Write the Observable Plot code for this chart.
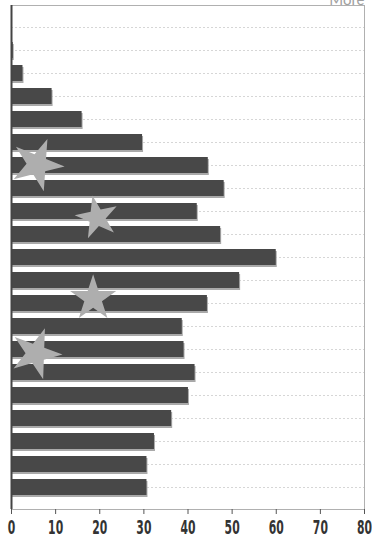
<!DOCTYPE html>
<html>
<head>
<meta charset="utf-8">
<script src="https://cdn.jsdelivr.net/npm/d3@7"></script>
<script src="https://cdn.jsdelivr.net/npm/@observablehq/plot@0.6"></script>
<style>
  html, body { margin: 0; padding: 0; background: #fff; }
  #chart { width: 372px; height: 537px; overflow: hidden; }
</style>
</head>
<body>
<div id="chart"></div>
<script>
// ---- data ----
const categories = ["1","2","3","4","5","6","7","8","9","10","11","12","13","14","15","16","17","18","19","20","21"];
const values = [0, 0.4, 2.6, 9.2, 16.0, 29.7, 44.6, 48.2, 42.1, 47.4, 60.0, 51.7, 44.4, 38.7, 39.1, 41.6, 40.1, 36.3, 32.4, 30.7, 30.7];
const xTicks = [0, 10, 20, 30, 40, 50, 60, 70, 80];
const cornerLabel = ["More"];

// decorative stars (shown through the bars)
const starRows = ["7", "9", "13", "15"];
const starX = [5.8, 19.4, 18.5, 5.5];

const rows = categories.map((c, i) => ({category: c, value: values[i]}));
const starStyle = [
  {r: 16.5, rotate: 22, dy: -1},
  {r: 13.5, rotate: -12, dy: 6},
  {r: 14.5, rotate: 0, dy: -5},
  {r: 16, rotate: 20, dy: 4}
];
const starMarks = starRows.map((row, i) =>
  Plot.dot([{category: row, value: starX[i]}], {
    x: "value", y: "category", symbol: "star", r: starStyle[i].r,
    rotate: starStyle[i].rotate, dy: starStyle[i].dy,
    fill: "#aeaeae", stroke: "none", ariaLabel: "star"
  })
);

const chart = Plot.plot({
  width: 372,
  height: 537,
  marginLeft: 11,
  marginRight: 8,
  marginTop: 5,
  marginBottom: 28,
  style: {background: "#fff", overflow: "visible"},
  x: {domain: [0, 80], ticks: xTicks, label: null},
  y: {domain: categories, padding: 0.32, axis: null},
  marks: [
    Plot.gridY({stroke: "#d6d6d6", strokeOpacity: 1, strokeDasharray: "2,2"}),
    Plot.barX(rows, {x: "value", y: "category", fill: "#a9a9a9", dx: 1, dy: 2}),
    Plot.barX(rows, {x: "value", y: "category", fill: "#484848", ariaLabel: "dark-bars"}),
    ...starMarks,
    Plot.frame({stroke: "#b0b0b0"}),
    Plot.ruleX([0], {stroke: "#444", strokeWidth: 2}),
    Plot.axisX({
      ticks: xTicks, tickSize: 5, tickPadding: 19, stroke: "#555",
      fontSize: 20, fontFamily: "DejaVu Sans Condensed", fontWeight: "bold",
      fill: "#333", label: null
    }),
    Plot.text(cornerLabel, {
      frameAnchor: "top-right", text: d => d, textAnchor: "end", lineAnchor: "bottom",
      dy: -1, fontSize: 15, fontFamily: "Lato", fill: "#a0a0a0"
    })
  ]
});

document.getElementById("chart").appendChild(chart);

(function () {
  const svg = chart.tagName.toLowerCase() === "svg" ? chart : chart.querySelector("svg");
  const ns = "http://www.w3.org/2000/svg";
  // clip stars to the dark bars
  const defs = document.createElementNS(ns, "defs");
  const cp = document.createElementNS(ns, "clipPath");
  cp.setAttribute("id", "barclip");
  svg.querySelectorAll("g[aria-label='dark-bars'] rect").forEach(r => {
    const c = r.cloneNode();
    const gt = r.parentNode.getAttribute("transform");
    const rt = r.getAttribute("transform");
    const t = [gt, rt].filter(Boolean).join(" ");
    if (t) c.setAttribute("transform", t);
    cp.appendChild(c);
  });
  defs.appendChild(cp);
  svg.insertBefore(defs, svg.firstChild);
  const stars = svg.querySelectorAll("g[aria-label='star']");
  if (stars.length) {
    const wrap = document.createElementNS(ns, "g");
    wrap.setAttribute("clip-path", "url(#barclip)");
    stars[0].parentNode.insertBefore(wrap, stars[0]);
    stars.forEach(s => wrap.appendChild(s));
  }
  // narrow the condensed tick labels
  svg.querySelectorAll("g[aria-label='x-axis tick label'] text").forEach(t => {
    const x = +t.getAttribute("x") || 0, y = +t.getAttribute("y") || 0;
    const tr = t.getAttribute("transform") || "";
    t.removeAttribute("x"); t.removeAttribute("y");
    t.setAttribute("transform", `${tr} translate(${x},${y}) scale(0.6,1)`);
  });
})();
</script>
</body>
</html>
